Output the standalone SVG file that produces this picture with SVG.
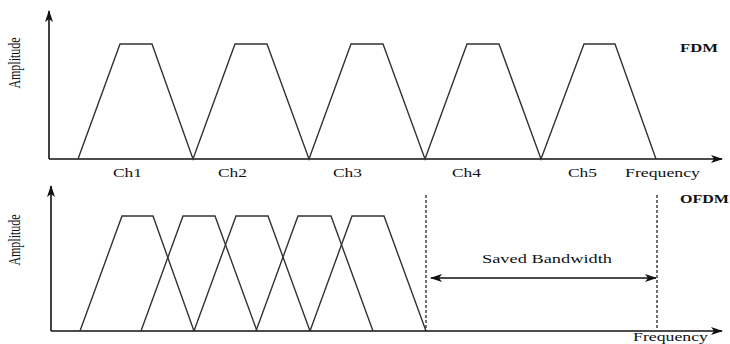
<svg xmlns="http://www.w3.org/2000/svg" width="730" height="344" viewBox="0 0 730 344">
<style>
.ax{stroke:#111;stroke-width:1.6;fill:none}
.sig{stroke:#333;stroke-width:1.4;fill:none;stroke-linejoin:miter}
.dash{stroke:#111;stroke-width:1.2;stroke-dasharray:3,2;fill:none}
.t{font-family:"Liberation Serif","Times New Roman",serif;font-size:12px;fill:#111}
.b{font-weight:bold}
</style>
<defs>
<marker id="ah" viewBox="0 0 12 8" refX="11" refY="4" markerWidth="12" markerHeight="8" markerUnits="userSpaceOnUse" orient="auto-start-reverse">
<path d="M0,0 L12,4 L0,8 L3,4 Z" fill="#111"/>
</marker>
</defs>
<g id="axes">
<line class="ax" x1="49" y1="159" x2="49" y2="11" marker-end="url(#ah)"/>
<line class="ax" x1="49" y1="159" x2="722" y2="159" marker-end="url(#ah)"/>
<line class="ax" x1="51" y1="331" x2="51" y2="186" marker-end="url(#ah)"/>
<line class="ax" x1="51" y1="331" x2="722" y2="331" marker-end="url(#ah)"/>
</g>
<g id="fdm">
<polyline class="sig" points="78,159 120,44 152,44 193,159 235,44 267,44 309,159 351,44 383,44 425,159 467,44 499,44 541,159 584,44 615,44 656,159"/>
</g>
<g id="ofdm">
<polyline class="sig" points="80,331 122,216 153,216 194,331"/>
<polyline class="sig" points="141,331 183,216 215,216 257,331"/>
<polyline class="sig" points="194,331 236,216 268,216 310,331"/>
<polyline class="sig" points="256,331 298,216 331,216 373,331"/>
<polyline class="sig" points="310,331 352,216 384,216 426,331"/>
</g>
<g id="connectors">
<line class="dash" x1="426" y1="195" x2="426" y2="331"/>
<line class="dash" x1="657" y1="195" x2="657" y2="328"/>
<line class="ax" stroke-width="1.3" x1="431" y1="278" x2="656" y2="278" marker-start="url(#ah)" marker-end="url(#ah)"/>
</g>
<g id="labels">
<text class="t" transform="translate(20,63) scale(1.4,1) rotate(-90)" text-anchor="middle" font-size="11">Amplitude</text>
<text class="t" transform="translate(20,240) scale(1.4,1) rotate(-90)" text-anchor="middle" font-size="11">Amplitude</text>
<text class="t" x="113" y="177" textLength="29" lengthAdjust="spacingAndGlyphs">Ch1</text>
<text class="t" x="218" y="177" textLength="29" lengthAdjust="spacingAndGlyphs">Ch2</text>
<text class="t" x="333" y="177" textLength="29" lengthAdjust="spacingAndGlyphs">Ch3</text>
<text class="t" x="452" y="177" textLength="29" lengthAdjust="spacingAndGlyphs">Ch4</text>
<text class="t" x="568" y="177" textLength="29" lengthAdjust="spacingAndGlyphs">Ch5</text>
<text class="t" x="625" y="177" textLength="75" lengthAdjust="spacingAndGlyphs">Frequency</text>
<text class="t b" x="680" y="52" textLength="38" lengthAdjust="spacingAndGlyphs">FDM</text>
<text class="t b" x="680" y="203" textLength="49" lengthAdjust="spacingAndGlyphs">OFDM</text>
<text class="t" x="482" y="263" textLength="130" lengthAdjust="spacingAndGlyphs">Saved Bandwidth</text>
<text class="t" x="633" y="341" textLength="75" lengthAdjust="spacingAndGlyphs">Frequency</text>
</g>
</svg>
